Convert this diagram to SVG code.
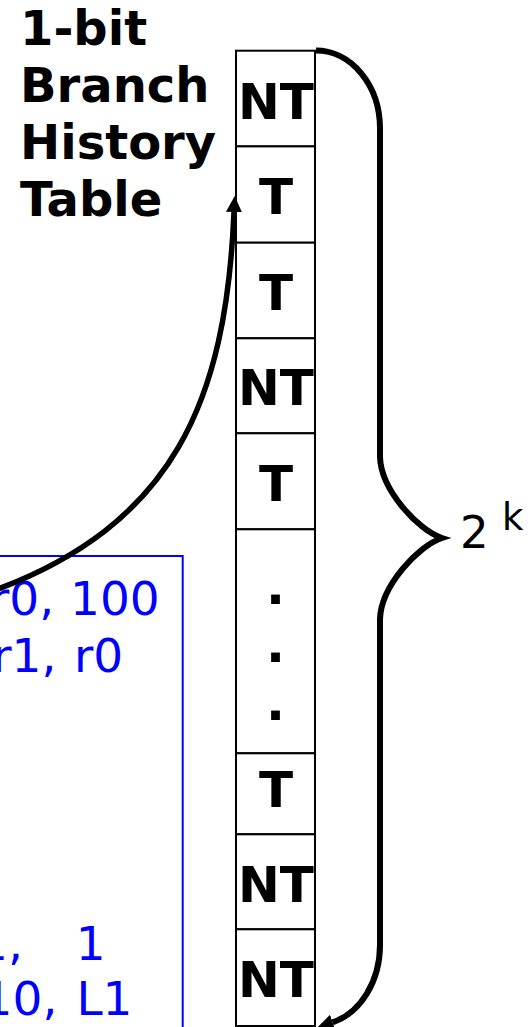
<svg xmlns="http://www.w3.org/2000/svg" width="531" height="1027" viewBox="0 0 531 1027">
<style>
.cell{fill:#fff;stroke:#000;stroke-width:2}
.ct{font-family:"DejaVu Sans",Verdana,sans-serif;font-weight:bold;font-size:50px;text-anchor:middle;fill:#000}
.title{font-family:"DejaVu Sans",Verdana,sans-serif;font-weight:bold;font-size:48px;fill:#000}
.code{font-family:"DejaVu Sans",Verdana,sans-serif;font-size:47px;fill:#0000ff}
.conn{fill:none;stroke:#000;stroke-width:5.5}
.brace{stroke-width:6}
.hand{font-family:"DejaVu Sans",sans-serif;fill:#000}
</style>
<defs>
<marker id="ah" markerUnits="userSpaceOnUse" markerWidth="16" markerHeight="16" viewBox="0 0 16 16" refX="0" refY="8" orient="auto">
<path d="M0,0 L16,8 L0,16 z" fill="#000"/>
</marker>
</defs>

<g id="title">
<text class="title" x="20" y="45">1-bit</text>
<text class="title" x="20" y="102">Branch</text>
<text class="title" x="20" y="159">History</text>
<text class="title" x="20" y="215.5">Table</text>
</g>

<g id="code">
<rect x="-10" y="556" width="192.7" height="500" fill="none" stroke="#0000ff" stroke-width="2"/>
<text class="code" y="615"><tspan x="-10">r0,</tspan><tspan x="70">100</tspan></text>
<text class="code" y="671.7"><tspan x="-7.8">r1,</tspan><tspan x="74">r0</tspan></text>
<text class="code" y="960"><tspan x="-22">1,</tspan><tspan x="75.8">1</tspan></text>
<text class="code" y="1015"><tspan x="-17.4">10,</tspan><tspan x="76.4">L1</tspan></text>
</g>

<g id="table">
<g id="row1"><rect class="cell" x="236" y="50.7" width="79" height="95.7"/><text class="ct" x="276" y="118.5">NT</text></g>
<g id="row2"><rect class="cell" x="236" y="146.4" width="79" height="96.3"/><text class="ct" x="276" y="214">T</text></g>
<g id="row3"><rect class="cell" x="236" y="242.7" width="79" height="95.6"/><text class="ct" x="276" y="310">T</text></g>
<g id="row4"><rect class="cell" x="236" y="338.3" width="79" height="95"/><text class="ct" x="276" y="405">NT</text></g>
<g id="row5"><rect class="cell" x="236" y="433.3" width="79" height="96"/><text class="ct" x="276" y="501">T</text></g>
<g id="row6"><rect class="cell" x="236" y="529.3" width="79" height="224"/><text class="ct" x="275.5" y="603.5">.</text><text class="ct" x="275.5" y="661.5">.</text><text class="ct" x="275.5" y="719.5">.</text></g>
<g id="row7"><rect class="cell" x="236" y="753.3" width="79" height="81"/><text class="ct" x="276" y="806.7">T</text></g>
<g id="row8"><rect class="cell" x="236" y="834.3" width="79" height="95"/><text class="ct" x="276" y="901.7">NT</text></g>
<g id="row9"><rect class="cell" x="236" y="929.3" width="79" height="96.7"/><text class="ct" x="276" y="996.7">NT</text></g>
</g>

<g id="size-label">
<text class="hand" x="460" y="548" font-size="45">2</text>
<text class="hand" x="502" y="530" font-size="37">k</text>
</g>

<g id="connectors">
<path class="conn" d="M-10,592 C175,525 226,400 234,212" marker-end="url(#ah)"/>
<path class="conn brace" d="M316,50.5 A64,78 0 0 1 380,128.5 L380,457 C381,490 418,530 442,538 C418,546 381,586 380,619 L380,945 A64,80 0 0 1 332.6,1022.3" marker-end="url(#ah)"/>
</g>
</svg>
